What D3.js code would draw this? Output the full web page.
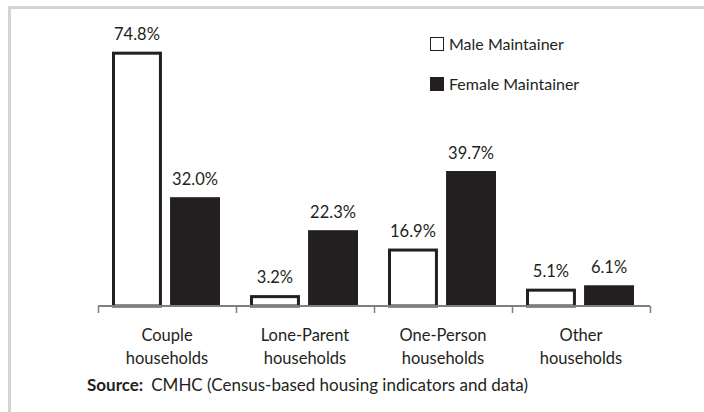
<!DOCTYPE html>
<html>
<head>
<meta charset="utf-8">
<script src="https://cdn.jsdelivr.net/npm/d3@7"></script>
<style>
  body { margin: 0; background: #fff; }
  text { font-family: Lato, "Open Sans", sans-serif; fill: #231f20; }
</style>
</head>
<body>
<div id="chart"></div>
<script>
var categories = [["Couple", "households"], ["Lone-Parent", "households"], ["One-Person", "households"], ["Other", "households"]];
var seriesNames = ["Male Maintainer", "Female Maintainer"];
var maleValues = [74.8, 3.2, 16.9, 5.1];
var femaleValues = [32.0, 22.3, 39.7, 6.1];

var svgWidth = 704, svgHeight = 412;
var margin = {top: 34, right: 54, bottom: 106, left: 98};
var width = svgWidth - margin.left - margin.right;
var height = svgHeight - margin.top - margin.bottom;

var svg = d3.select("#chart").append("svg")
    .attr("width", svgWidth).attr("height", svgHeight);

// light frame
svg.append("rect").attr("x", 9.5).attr("y", 7.5).attr("width", 720).attr("height", 420)
    .attr("fill", "none").attr("stroke", "#d4d4d4").attr("stroke-width", 3);

var g = svg.append("g").attr("transform", `translate(${margin.left}, ${margin.top})`);

var data = categories.map((c, i) => ({cat: i, values: [maleValues[i], femaleValues[i]]}));

var x0 = d3.scaleBand().domain(d3.range(categories.length)).range([0, width]).paddingInner(0).paddingOuter(0);
var x1 = d3.scaleBand().domain([0, 1]).range([14, x0.bandwidth() - 16]).paddingInner(0.14);
var y = d3.scaleLinear().domain([0, 80]).range([height, 0]);
var colors = ["#ffffff", "#231f20"];

var groups = g.selectAll(".grp").data(data).enter().append("g")
    .attr("transform", d => `translate(${x0(d.cat)},0)`);

groups.selectAll("rect").data(d => d.values.map((v, s) => ({v: v, s: s}))).enter().append("rect")
    .attr("x", d => x1(d.s) + (d.s === 0 ? 1.5 : 0))
    .attr("y", d => y(d.v) + (d.s === 0 ? 1.5 : 0))
    .attr("width", d => x1.bandwidth() - (d.s === 0 ? 3 : 0))
    .attr("height", d => height - y(d.v) - (d.s === 0 ? 1.5 : 0))
    .attr("fill", d => colors[d.s])
    .attr("stroke", d => d.s === 0 ? "#231f20" : "none")
    .attr("stroke-width", 3);

groups.selectAll(".lbl").data(d => d.values.map((v, s) => ({v: v, s: s}))).enter().append("text")
    .attr("x", d => x1(d.s) + x1.bandwidth() / 2)
    .attr("y", d => y(d.v) - 12)
    .attr("text-anchor", "middle").attr("font-size", 16.5)
    .text(d => d.v.toFixed(1) + "%");

// axis
var xAxis = d3.axisBottom(d3.scaleLinear().domain([0, categories.length]).range([0, width]))
    .ticks(categories.length).tickSize(7).tickFormat("");
var axisG = g.append("g").attr("transform", `translate(0, ${height})`).call(xAxis);
axisG.select(".domain").attr("d", `M0,0H${width}`).attr("stroke", "#7f7f7f").attr("stroke-width", 2);
axisG.selectAll(".tick line").attr("stroke", "#7f7f7f").attr("stroke-width", 1.5);

// category labels
var catText = g.selectAll(".cat").data(categories).enter().append("text")
    .attr("text-anchor", "middle").attr("font-size", 16.5)
    .attr("transform", (d, i) => `translate(${x0(i) + x0.bandwidth() / 2}, ${height + 35})`);
catText.selectAll("tspan").data(d => d).enter().append("tspan")
    .attr("x", 0).attr("dy", (d, i) => i === 0 ? 0 : 23).text(d => d);

// legend
var legend = svg.selectAll(".legend").data(seriesNames).enter().append("g")
    .attr("transform", (d, i) => `translate(430, ${37 + i * 40})`);
legend.append("rect").attr("x", 0.5).attr("y", 0.5).attr("width", 13).attr("height", 13)
    .attr("fill", (d, i) => colors[i]).attr("stroke", "#231f20").attr("stroke-width", 1);
legend.append("text").attr("x", 19).attr("y", 12.5).attr("font-size", 16).text(d => d);

// source
var src = svg.append("text").attr("x", 87).attr("y", 391).attr("font-size", 17);
src.append("tspan").attr("font-weight", "bold").text("Source:");
src.append("tspan").attr("dx", 8).text("CMHC (Census-based housing indicators and data)");
</script>
</body>
</html>
